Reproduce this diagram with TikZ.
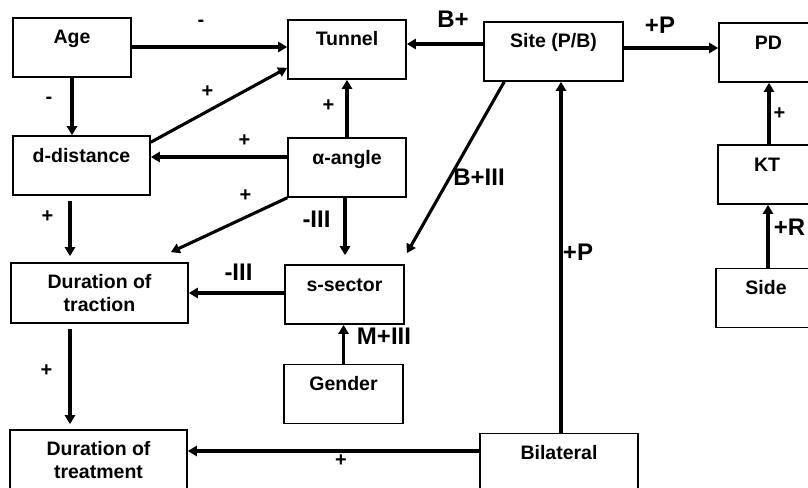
\documentclass[tikz,border=0pt]{standalone}
\usepackage{fontspec}
\setmainfont{Liberation Sans}
\usetikzlibrary{arrows.meta}
\begin{document}
\begin{tikzpicture}[x=1pt,y=-1pt,
  box/.style={draw,line width=1.6pt,inner sep=0pt,text height=26pt,text depth=33pt,
    font=\fontsize{19.5}{23}\selectfont\bfseries},
  ebox/.style={draw,line width=1.6pt,inner sep=0pt,minimum height=60pt},
  mtxt/.style={inner sep=0pt,align=center,anchor=north,
    font=\fontsize{19.5}{23}\selectfont\bfseries},
  arr/.style={line width=3.1pt,-{Triangle[length=9pt,width=10pt]}},
  sl/.style={inner sep=0pt,text height=0.72em,text depth=0pt,
    font=\fontsize{20}{23}\selectfont\bfseries},
  bl/.style={inner sep=0pt,text height=0.72em,text depth=0pt,
    font=\fontsize{24}{28}\selectfont\bfseries}]
\useasboundingbox (0,0) rectangle (808,487);
\clip (0,0) rectangle (808,487);
\fill[white] (0,0) rectangle (808,487);
% boxes
\node[box,minimum width=118pt] (age) at (72,47.5) {Age};
\node[box,minimum width=118pt] (tunnel) at (347,49.5) {Tunnel};
\node[box,minimum width=139pt] (site) at (553.5,51.5) {Site (P/B)};
\node[box,minimum width=99pt] (pd) at (768.5,52.5) {PD};
\node[box,minimum width=137pt] (ddist) at (81.5,165.5) {d-distance};
\node[box,minimum width=118pt] (alpha) at (347,167.5) {α-angle};
\node[box,minimum width=98pt] (kt) at (767,174.5) {KT};
\node[ebox,minimum width=177pt] (dtrac) at (99.5,293) {};
\node[mtxt] (dtract) at ([yshift=-12pt]dtrac.north) {Duration of\\traction};
\node[box,minimum width=119pt] (ssec) at (344.5,294.5) {s-sector};
\node[box,minimum width=100pt] (side) at (766,298) {Side};
\node[box,minimum width=119pt] (gender) at (343.5,394) {Gender};
\node[ebox,minimum width=177pt] (dtreat) at (98.5,460) {};
\node[mtxt] (dtreatt) at ([yshift=-12pt]dtreat.north) {Duration of\\treatment};
\node[box,minimum width=158pt] (bilat) at (559,463) {Bilateral};
% connectors
\draw[arr] (age.east |- 0,47) -- (tunnel.west |- 0,47);
\draw[arr] (age.south) -- (ddist.north -| age.south);
\draw[arr] ([yshift=-7pt]ddist.north east) -- ([yshift=12pt]tunnel.south west);
\draw[arr] (alpha.west |- 0,157) -- (ddist.east |- 0,157);
\draw[arr] (alpha.north) -- (tunnel.south);
\draw[arr] (alpha.south west) -- ([shift={(-18,-10)}]dtrac.north east);
\draw[arr] ([shift={(-11.5,5)}]ddist.south) -- ([shift={(-29.5,-6)}]dtrac.north);
\draw[arr] ([xshift=-2pt]alpha.south) -- ([shift={(-2,-9)}]alpha.south |- ssec.north);
\draw[arr] ([xshift=21pt]site.south west) -- ([shift={(2,-11)}]ssec.north east);
\draw[arr] (ssec.west |- 0,293) -- (dtrac.east |- 0,293);
\draw[arr] (gender.north) -- (ssec.south -| gender.north);
\draw[arr] ([shift={(-29.5,5)}]dtrac.south) -- ([shift={(-28.5,-5)}]dtreat.north);
\draw[arr] (bilat.west |- 0,451) -- (dtreat.east |- 0,451);
\draw[arr] (bilat.north -| 561,0) -- (site.south -| 561,0);
\draw[arr] (site.west |- 0,44) -- (tunnel.east |- 0,44);
\draw[arr] (site.east |- 0,48) -- (pd.west |- 0,48);
\draw[arr] (kt.north -| 769,0) -- (pd.south -| 769,0);
\draw[arr] (side.north -| 768,0) -- (kt.south -| 768,0);
% labels
\node[sl] (l1) at (201,23) {-};
\node[sl] (l2) at (49,100) {-};
\node[sl] (l3) at (207.5,93.5) {+};
\node[sl] (l4) at (244.5,142.5) {+};
\node[sl] (l5) at (328.5,107.5) {+};
\node[sl] (l6) at (245.5,198) {+};
\node[sl] (l7) at (47.5,218.5) {+};
\node[bl] (l8) at (316.5,224) {-III};
\node[bl] (l9) at (479,181.5) {B+III};
\node[bl] (l10) at (238.5,276.5) {-III};
\node[bl] (l11) at (384,341) {M+III};
\node[sl] (l12) at (46.5,373) {+};
\node[sl] (l13) at (341,463) {+};
\node[bl] (l14) at (578,257) {+P};
\node[bl] (l15) at (453,23.5) {B+};
\node[bl] (l16) at (660,30) {+P};
\node[sl] (l17) at (779.5,116) {+};
\node[bl] (l18) at (789.5,231.5) {+R};
\end{tikzpicture}
\end{document}
